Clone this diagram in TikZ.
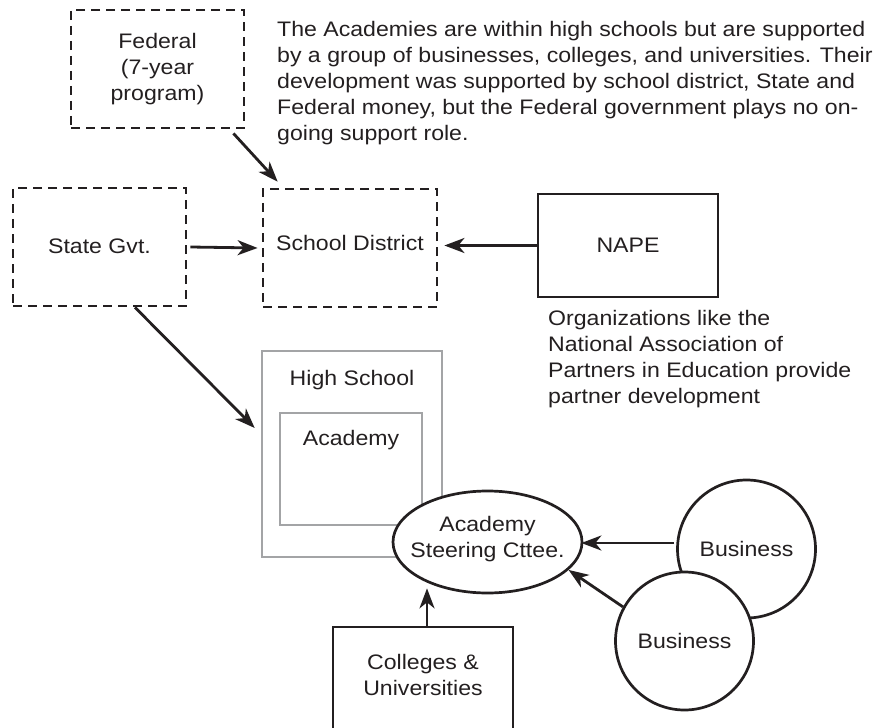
\documentclass[tikz,border=0pt]{standalone}
\usepackage{fontspec}
\setmainfont[FakeStretch=1.1]{Liberation Sans}
\usetikzlibrary{arrows.meta,shapes.geometric,calc}
\definecolor{ink}{HTML}{231F20}
\definecolor{grayline}{HTML}{A3A4A6}
\begin{document}
\begin{tikzpicture}[x=1pt,y=-1pt,
  font=\fontsize{21}{26}\selectfont, text=ink,
  dbox/.style={draw=ink, line width=2.8pt, dash pattern=on 9pt off 6pt,
    minimum width=173pt, minimum height=118pt, align=center, inner sep=0pt},
  sbox/.style={draw=ink, line width=2.8pt, inner sep=0pt, align=center},
  gbox/.style={draw=grayline, line width=2.6pt, inner sep=0pt},
  circ/.style={circle, draw=ink, line width=2.7pt, fill=white, minimum size=138pt, inner sep=0pt},
  arr/.style={draw=ink, line width=2.8pt, -{Stealth[length=20pt,width=15pt,inset=6pt]}},
  lbl/.style={align=center, inner sep=0pt},
  txt/.style={align=left, inner sep=0pt, anchor=north west}
]
\useasboundingbox (0,0) rectangle (874,727);
\clip (0,0) rectangle (874,727);

% dashed boxes
\node[dbox] (fed) at (157.5,69) {Federal\\(7-year\\program)};
\node[dbox] (state) at (99.5,247) {};
\node[lbl] (statet) at (99.5,246) {State Gvt.};
\node[dbox, minimum width=174pt] (sd) at (350,248) {};
\node[lbl] (sdt) at (350,243) {School District};

% NAPE
\node[sbox, minimum width=180pt, minimum height=103pt] (nape) at (628,245.5) {NAPE};

% texts
\node[txt] (para) at (277,21.5) {The Academies are within high schools but are supported\\
by a group of businesses, colleges, and universities. Their\\
development was supported by school district, State and\\
Federal money, but the Federal government plays no on-\\
going support role.};
\node[txt] (napet) at (548,310.5) {Organizations like the\\
National Association of\\
Partners in Education provide\\
partner development};

% high school and academy
\node[gbox, minimum width=180pt, minimum height=206pt] (hs) at (352,454) {};
\node[lbl] (hst) at (352,380) {High School};
\node[gbox, minimum width=142pt, minimum height=112pt] (acad) at (351,469) {};
\node[lbl] (acadt) at (351,440) {Academy};

% steering committee
\node[ellipse, draw=ink, line width=2.7pt, fill=white, minimum width=189pt, minimum height=102pt, inner sep=0pt] (ell) at (487.5,542) {};
\node[lbl] (ellt) at (487.5,539.5) {Academy\\Steering Cttee.};

% businesses
\node[circ] (b1) at (746.5,549) {Business};
\node[circ] (b2) at (684.5,641) {Business};

% colleges
\node[sbox, minimum width=180pt, minimum height=130pt] (col) at (423,692) {};
\node[lbl] (colt) at (423,674.5) {Colleges \&\\Universities};

% arrows
\draw[arr] ([xshift=-12pt,yshift=-4pt]fed.south east) -- ([xshift=16pt,yshift=6pt]sd.north west);
\draw[arr] ([xshift=3pt]state.east) -- ([xshift=-4pt]sd.west);
\draw[arr] (nape.west) -- ($(nape.west -| sd.east)+(6pt,0)$);
\draw[arr] ([xshift=35.5pt]state.south) -- ([xshift=-6pt,yshift=26pt]hs.west);
\draw[arr] ($(b1.west |- ell.east)+(-2pt,-1pt)$) -- ([xshift=-2pt,yshift=-1pt]ell.east);
\draw[arr] (b2.151) -- (ell.-19);
\draw[arr] ([xshift=4pt]col.north) -- ($(col.north |- ell.south)+(4pt,6pt)$);
\end{tikzpicture}
\end{document}
